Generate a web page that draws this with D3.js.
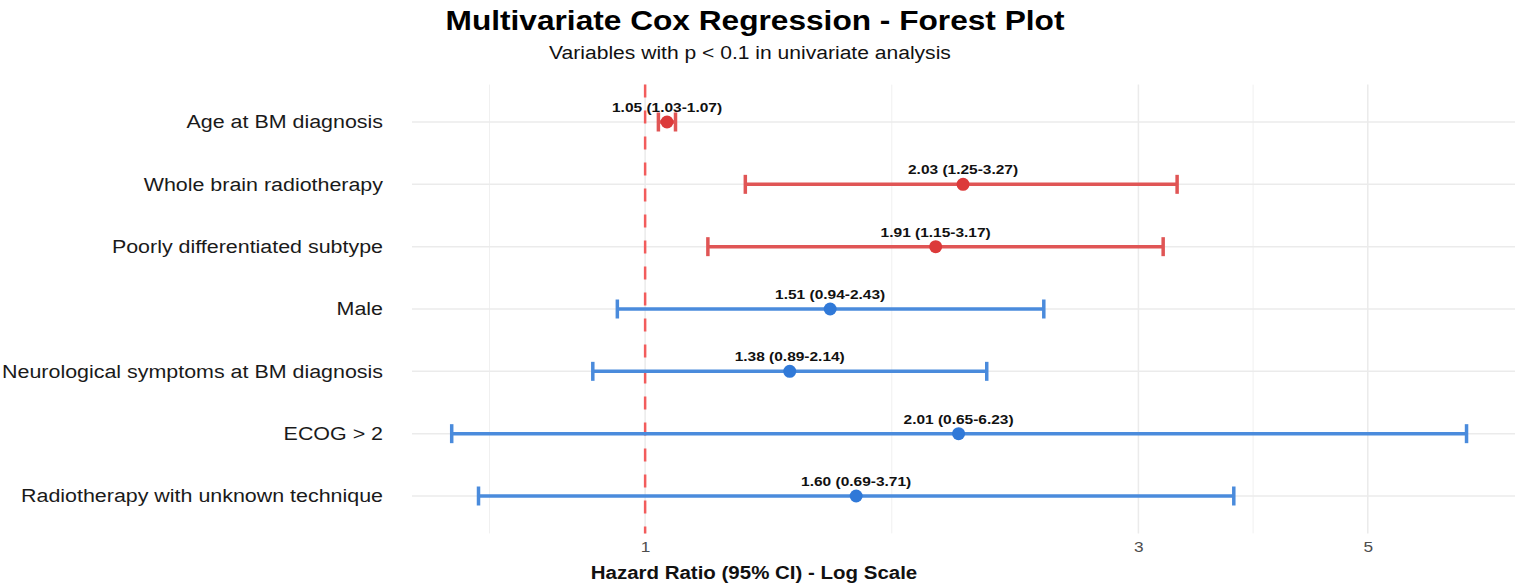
<!DOCTYPE html>
<html>
<head>
<meta charset="utf-8">
<script src="https://cdn.jsdelivr.net/npm/d3@7"></script>
<style>
  body { margin: 0; background: #fff; }
  svg { display: block; font-family: "Liberation Sans", Arial, sans-serif; }
</style>
</head>
<body>
<div id="container"></div>
<script>
/* DATA */
const variables = [
  "Age at BM diagnosis",
  "Whole brain radiotherapy",
  "Poorly differentiated subtype",
  "Male",
  "Neurological symptoms at BM diagnosis",
  "ECOG > 2",
  "Radiotherapy with unknown technique"
]
const hr    = [1.05, 2.03, 1.91, 1.51, 1.38, 2.01, 1.60]
const lower = [1.03, 1.25, 1.15, 0.94, 0.89, 0.65, 0.69]
const upper = [1.07, 3.27, 3.17, 2.43, 2.14, 6.23, 3.71]
const significant = [true, true, true, false, false, false, false]
const majorTicks = [1, 3, 5]
const minorTicks = [Math.sqrt(0.5), Math.sqrt(3), Math.sqrt(15)]
const xLimits = [0.595, 6.94]

const data = variables.map((v, i) => ({
  name: v, hr: hr[i], lo: lower[i], hi: upper[i], sig: significant[i]
}))

/* CONSTANTS */
const width = 1515, height = 584
const panel = { left: 412, right: 1515, top: 84.6, bottom: 533.4 }
const stretchX = 1.19   // the reference text is a bit wider than Liberation Sans

const svg = d3.select("#container")
  .append("svg")
  .attr("width", width)
  .attr("height", height)

// SCALES
const xScale = d3.scaleLog()
  .domain(xLimits)
  .range([panel.left, panel.right])

const yScale = d3.scalePoint()
  .domain(variables)
  .range([panel.top, panel.bottom])
  .padding(0.6)

const barColor = d => d.sig ? "#e05555" : "#4a8bdc"
const dotColor = d => d.sig ? "#dc3a3a" : "#3079d8"

// GRID
svg.selectAll(".minor")
  .data(minorTicks)
  .join("line")
  .attr("class", "minor")
  .attr("x1", d => xScale(d)).attr("x2", d => xScale(d))
  .attr("y1", panel.top).attr("y2", panel.bottom)
  .attr("stroke", "#f0f0f0")
  .attr("stroke-width", 1)

svg.selectAll(".major")
  .data(majorTicks)
  .join("line")
  .attr("class", "major")
  .attr("x1", d => xScale(d)).attr("x2", d => xScale(d))
  .attr("y1", panel.top).attr("y2", panel.bottom)
  .attr("stroke", "#ebebeb")
  .attr("stroke-width", 1.5)

svg.selectAll(".hgrid")
  .data(variables)
  .join("line")
  .attr("class", "hgrid")
  .attr("x1", panel.left).attr("x2", panel.right)
  .attr("y1", d => yScale(d)).attr("y2", d => yScale(d))
  .attr("stroke", "#ebebeb")
  .attr("stroke-width", 1.5)

// REFERENCE LINE AT HR = 1
svg.append("line")
  .attr("x1", xScale(1)).attr("x2", xScale(1))
  .attr("y1", panel.top).attr("y2", panel.bottom)
  .attr("stroke", "#f25c5c")
  .attr("stroke-width", 2.5)
  .attr("stroke-dasharray", "13,13")

// ERROR BARS
svg.selectAll(".ci")
  .data(data)
  .join("line")
  .attr("class", "ci")
  .attr("x1", d => xScale(d.lo)).attr("x2", d => xScale(d.hi))
  .attr("y1", d => yScale(d.name)).attr("y2", d => yScale(d.name))
  .attr("stroke", barColor)
  .attr("stroke-width", 3.5)

const caps = data.flatMap(d => [{ d, v: d.lo }, { d, v: d.hi }])
svg.selectAll(".cap")
  .data(caps)
  .join("line")
  .attr("class", "cap")
  .attr("x1", c => xScale(c.v)).attr("x2", c => xScale(c.v))
  .attr("y1", c => yScale(c.d.name) - 9.5).attr("y2", c => yScale(c.d.name) + 9.5)
  .attr("stroke", c => barColor(c.d))
  .attr("stroke-width", 3.5)

// POINTS
svg.selectAll(".pt")
  .data(data)
  .join("circle")
  .attr("class", "pt")
  .attr("cx", d => xScale(d.hr))
  .attr("cy", d => yScale(d.name))
  .attr("r", 6.5)
  .attr("fill", dotColor)

// VALUE LABELS
svg.selectAll(".lbl")
  .data(data)
  .join("text")
  .attr("class", "lbl")
  .attr("x", d => xScale(d.hr))
  .attr("y", d => yScale(d.name) - 10)
  .attr("text-anchor", "middle")
  .attr("font-size", 13)
  .attr("font-weight", "bold")
  .attr("fill", "#111")
  .text(d => `${d.hr.toFixed(2)} (${d.lo.toFixed(2)}-${d.hi.toFixed(2)})`)

// AXES (ggplot style, no lines)
const yAxis = d3.axisLeft(yScale).tickSize(0).tickPadding(0)
svg.append("g")
  .attr("transform", `translate(383, 0)`)
  .call(yAxis)
  .call(g => g.select(".domain").remove())
  .selectAll("text")
  .attr("font-size", 18)
  .attr("fill", "#1a1a1a")
  .attr("font-family", "Liberation Sans, Arial, sans-serif")

const xAxis = d3.axisBottom(xScale)
  .tickValues(majorTicks)
  .tickFormat(d3.format("d"))
  .tickSize(0)
  .tickPadding(0)
svg.append("g")
  .attr("transform", `translate(0, ${panel.bottom + 8})`)
  .call(xAxis)
  .call(g => g.select(".domain").remove())
  .selectAll("text")
  .attr("font-size", 14.5)
  .attr("fill", "#4d4d4d")
  .attr("font-family", "Liberation Sans, Arial, sans-serif")

// TITLES
svg.append("text")
  .attr("x", 755).attr("y", 30)
  .attr("text-anchor", "middle")
  .attr("font-size", 28)
  .attr("font-weight", "bold")
  .attr("fill", "#000")
  .attr("data-stretch", 1.13)
  .text("Multivariate Cox Regression - Forest Plot")

svg.append("text")
  .attr("x", 750).attr("y", 59)
  .attr("text-anchor", "middle")
  .attr("font-size", 18)
  .attr("fill", "#111")
  .attr("data-stretch", 1.17)
  .text("Variables with p < 0.1 in univariate analysis")

svg.append("text")
  .attr("x", 754).attr("y", 579)
  .attr("text-anchor", "middle")
  .attr("font-size", 17.5)
  .attr("font-weight", "bold")
  .attr("fill", "#111")
  .attr("data-stretch", 1.17)
  .text("Hazard Ratio (95% CI) - Log Scale")

// widen every text a little to match the reference glyph widths
svg.selectAll("text").each(function() {
  const w = this.getComputedTextLength()
  const s = +(this.getAttribute("data-stretch") || stretchX)
  d3.select(this)
    .attr("textLength", w * s)
    .attr("lengthAdjust", "spacingAndGlyphs")
})
</script>
</body>
</html>
